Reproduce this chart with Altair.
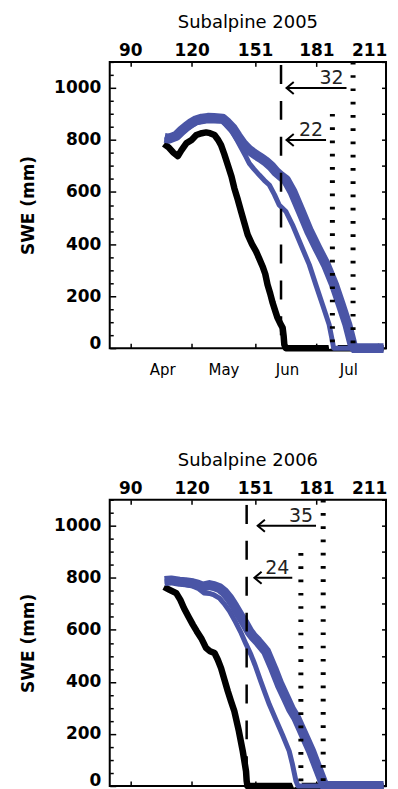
import altair as alt
import pandas as pd

X_DOMAIN = [80, 215]
Y_DOMAIN = [0, 1100]

top_tick_days = [90, 120, 151, 181, 211]
month_tick_days = [90, 120, 151, 181]
month_names = ["Apr", "May", "Jun", "Jul"]
y_left_ticks = list(range(0, 1101, 50))
y_right_ticks = list(range(0, 1101, 100))

# ---------------- Subalpine 2005 ----------------
a_title = "Subalpine 2005"
a_black_day = [106.5, 109, 111, 113.3, 115, 117.4, 120, 122.3, 125, 127.1, 129, 131.2, 133, 134.4, 136,
               137.7, 139.5, 140.9, 142.6, 144.2, 145.8, 147.4, 149.5, 151.5, 153, 154.7, 156, 157.1,
               158.4, 159.6, 161, 162, 163.3, 164.5, 165, 165.3, 166, 213.8]
a_black_swe = [785, 770, 752, 738, 760, 787, 800, 819, 826, 829, 826, 819, 800, 780, 745,
               704, 660, 614, 570, 525, 480, 436, 400, 372, 345, 314, 285, 244,
               210, 174, 140, 116, 95, 78, 45, 14, 0, 0]
a_upper_day = [106.8, 109, 112.5, 115, 117.4, 120, 122.3, 125, 127.9, 131, 135.2, 137.5, 140.1, 142.5,
               145, 148, 151.5, 154, 156.4, 159, 161.2, 163.5, 166.1, 169.3, 173.4, 177.5, 181.5,
               185.6, 189.6, 192.9, 196.1, 198.6, 199.5, 213.8]
a_upper_swe = [808, 805, 816, 835, 851, 866, 876, 882, 885, 884, 882, 866, 844, 815,
               787, 762, 742, 730, 716, 698, 678, 662, 646, 601, 525, 448, 384,
               321, 244, 167, 91, 14, 0, 0]
a_lower_day = [106.8, 112.5, 117.4, 122.3, 127.9, 135.2, 140.1, 143.5, 146.6, 148.2, 150.5, 153.1, 155.5,
               158, 160.5, 162.8, 166.1, 169.3, 173.4, 177.5, 180.7, 184, 187.2, 188.8, 189.4, 213.8]
a_lower_swe = [800, 808, 842, 866, 874, 872, 830, 780, 735, 710, 688, 665, 645,
               627, 590, 550, 525, 474, 397, 321, 244, 167, 91, 27, 0, 0]
a_halo_days = [146, 190]
a_vline_day = [163.7, 188.8, 198.9]
a_vline_top = [1088, 900, 1100]
a_vline_kind = ["dashed", "dotted", "dotted"]
a_arrow_y = [1000, 800]
a_arrow_tip = [166.4, 166.4]
a_arrow_tail = [195.7, 185.7]
a_arrow_label = ["32", "22"]

# ---------------- Subalpine 2006 ----------------
b_title = "Subalpine 2006"
b_black_day = [106.5, 109, 112.5, 114.5, 116.3, 118.5, 120.6, 122.5, 124.7, 127.1, 129, 131.2, 132.8,
               134.4, 136, 137.7, 139.3, 140.9, 143.1, 145, 146.6, 146.9, 147.3, 213.8]
b_black_swe = [765, 755, 741, 715, 683, 650, 620, 595, 568, 530, 518, 511, 485,
               453, 410, 364, 325, 287, 211, 134, 57, 20, 0, 0]
b_upper_day = [106.8, 110, 114.1, 117, 120.6, 123, 125.5, 128.7, 131, 133.6, 136, 138.5, 141, 143.4,
               146, 148.2, 150, 152.3, 154.5, 156.4, 160, 163, 166, 168.6, 171.1, 173.4, 175.5,
               178.4, 181.5, 184, 185, 213.8]
b_upper_swe = [788, 790, 785, 783, 779, 774, 766, 772, 768, 760, 745, 721, 690, 658,
               625, 594, 575, 556, 535, 517, 450, 390, 340, 295, 262, 222, 185,
               134, 70, 19, 0, 0]
b_lower_day = [106.8, 110, 114, 117, 120.6, 123.5, 126, 128.7, 131, 133.6, 136, 138.5, 141.5, 144.2,
               146.6, 149, 151, 153.9, 156, 158, 161.2, 164.5, 167.7, 169.3, 171, 172, 213.8]
b_lower_swe = [785, 786, 780, 774, 768, 758, 742, 740, 734, 722, 700, 672, 630, 588,
               545, 505, 465, 400, 355, 313, 255, 195, 134, 83, 19, 0, 0]
b_halo_days = [144, 173]
b_vline_day = [146.9, 173.4, 184.3]
b_vline_top = [1080, 895, 1100]
b_vline_kind = ["dashed", "dotted", "dotted"]
b_arrow_y = [1000, 800]
b_arrow_tip = [152.3, 150.7]
b_arrow_tail = [180.8, 169.2]
b_arrow_label = ["35", "24"]

BLUE = "#4a55a6"
FONT = "DejaVu Sans"
W = 277


def month_expr():
    parts = []
    for d, m in zip(month_tick_days, month_names):
        parts.append(f"datum.value == {d} ? '{m}' : ")
    return "".join(parts) + "''"


def panel(title, black_day, black_swe, upper_day, upper_swe, lower_day, lower_swe, halo_days,
          vline_day, vline_top, vline_kind, arrow_y, arrow_tip, arrow_tail, arrow_label,
          height, month_labels=True):
    xs = alt.Scale(domain=X_DOMAIN, nice=False, zero=False)
    ys = alt.Scale(domain=Y_DOMAIN, nice=False, zero=False)

    black = pd.DataFrame({"day": black_day, "swe": black_swe})
    upper = pd.DataFrame({"day": upper_day, "swe": upper_swe})
    lower = pd.DataFrame({"day": lower_day, "swe": lower_swe})
    halo = lower[(lower.day >= halo_days[0]) & (lower.day <= halo_days[1])].reset_index(drop=True)
    vl = pd.DataFrame({"day": vline_day, "top": vline_top, "kind": vline_kind, "bottom": 0})
    ar = pd.DataFrame({"y": arrow_y, "tip": arrow_tip, "tail": arrow_tail, "label": arrow_label})

    grid_common = dict(grid=True, gridColor="black", gridWidth=1.5, gridOpacity=1, gridCap="butt",
                       ticks=False, domain=False, title=None)

    x_top = alt.Axis(orient="top", values=top_tick_days, format="d", labelFont=FONT,
                     labelFontWeight="bold", labelFontSize=17, labelColor="black", labelPadding=2,
                     labelOverlap=False, labelFlush=10, labelFlushOffset=9,
                     gridDash=[5, 2000], **grid_common)
    x_bot = alt.Axis(orient="bottom", values=month_tick_days, labels=month_labels,
                     labelExpr=month_expr(), labelOffset=32, labelFont=FONT, labelFontSize=15,
                     labelColor="black", labelPadding=14, labelOverlap=False, labelFlush=False,
                     gridDash=[4.5, 2000], **grid_common)
    y_left = alt.Axis(orient="left", values=y_left_ticks, format="d",
                      labelExpr="datum.value % 200 === 0 ? datum.label : ''",
                      labelFont=FONT, labelFontWeight="bold", labelFontSize=17, labelColor="black",
                      labelPadding=9, labelOverlap=False, labelFlush=False,
                      labelOffset={"condition": {"test": "datum.value === 0", "value": -5}, "value": 0},
                      gridDash={"condition": {"test": "datum.value % 200 === 0", "value": [6, 2000]},
                                "value": [3.5, 2000]},
                      grid=True, gridColor="black", gridWidth=1.5, gridOpacity=1, gridCap="butt",
                      ticks=False, domain=False,
                      title="SWE (mm)", titleFont=FONT, titleFontSize=17, titleFontWeight="bold",
                      titleColor="black", titlePadding=16)
    y_right = alt.Axis(orient="right", values=y_right_ticks, labels=False,
                       gridDash=[4.5, 2000], **grid_common)

    l_black = alt.Chart(black).mark_line(color="black", strokeWidth=6.5, strokeJoin="round",
                                         strokeCap="butt").encode(
        x=alt.X("day:Q", scale=xs, axis=x_top),
        y=alt.Y("swe:Q", scale=ys, axis=y_left),
    )
    l_halo = alt.Chart(halo).mark_line(color="white", strokeWidth=9, strokeJoin="round",
                                       strokeCap="butt").encode(
        x=alt.X("day:Q", scale=xs, axis=None),
        y=alt.Y("swe:Q", scale=ys, axis=None),
    )
    l_lower = alt.Chart(lower).mark_line(color=BLUE, strokeWidth=5, strokeJoin="round",
                                         strokeCap="butt").encode(
        x=alt.X("day:Q", scale=xs, axis=None),
        y=alt.Y("swe:Q", scale=ys, axis=None),
    )
    l_upper = alt.Chart(upper).mark_line(color=BLUE, strokeWidth=10, strokeJoin="round",
                                         strokeCap="butt").encode(
        x=alt.X("day:Q", scale=xs, axis=x_bot),
        y=alt.Y("swe:Q", scale=ys, axis=y_right),
    )
    v_dash = alt.Chart(vl[vl.kind == "dashed"]).mark_rule(color="black", strokeWidth=2.5,
                                                          strokeDash=[19, 17]).encode(
        x=alt.X("day:Q", scale=xs, axis=None),
        y=alt.Y("top:Q", scale=ys, axis=None),
        y2="bottom:Q",
    )
    v_dot = alt.Chart(vl[vl.kind == "dotted"]).mark_rule(color="black", strokeWidth=5,
                                                         strokeDash=[2.7, 10.6]).encode(
        x=alt.X("day:Q", scale=xs, axis=None),
        y=alt.Y("top:Q", scale=ys, axis=None),
        y2="bottom:Q",
    )
    a_line = alt.Chart(ar).mark_rule(color="black", strokeWidth=2).encode(
        x=alt.X("tip:Q", scale=xs, axis=None),
        x2="tail:Q",
        y=alt.Y("y:Q", scale=ys, axis=None),
    )
    a_head = alt.Chart(ar).mark_point(shape="M 1.2 -1 L 0 0 L 1.2 1", filled=False, color="black",
                                      strokeWidth=2, size=144, opacity=1).encode(
        x=alt.X("tip:Q", scale=xs, axis=None),
        y=alt.Y("y:Q", scale=ys, axis=None),
    )
    a_text = alt.Chart(ar).mark_text(align="right", baseline="alphabetic", dx=-3, dy=-4, font=FONT,
                                     fontSize=19, color="#222").encode(
        x=alt.X("tail:Q", scale=xs, axis=None),
        y=alt.Y("y:Q", scale=ys, axis=None),
        text="label:N",
    )
    return alt.layer(l_black, l_halo, l_lower, l_upper, v_dash, v_dot, a_line, a_head, a_text).resolve_axis(
        x="independent", y="independent"
    ).properties(
        width=W, height=height,
        title=alt.TitleParams(title, font=FONT, fontSize=18, fontWeight="normal", color="black",
                              anchor="middle", frame="group", offset=10),
    )


p1 = panel(a_title, a_black_day, a_black_swe, a_upper_day, a_upper_swe, a_lower_day, a_lower_swe,
           a_halo_days, a_vline_day, a_vline_top, a_vline_kind, a_arrow_y, a_arrow_tip, a_arrow_tail,
           a_arrow_label, height=287, month_labels=True)
p2 = panel(b_title, b_black_day, b_black_swe, b_upper_day, b_upper_swe, b_lower_day, b_lower_swe,
           b_halo_days, b_vline_day, b_vline_top, b_vline_kind, b_arrow_y, b_arrow_tip, b_arrow_tail,
           b_arrow_label, height=287, month_labels=False)

chart = alt.vconcat(p1, p2, spacing=73).configure_view(
    stroke="black", strokeWidth=2
).properties(
    padding={"left": 10, "top": 4, "right": 0, "bottom": 0},
    background="white",
)

chart.save("out.html", embed_options={"renderer": "svg", "actions": False})
